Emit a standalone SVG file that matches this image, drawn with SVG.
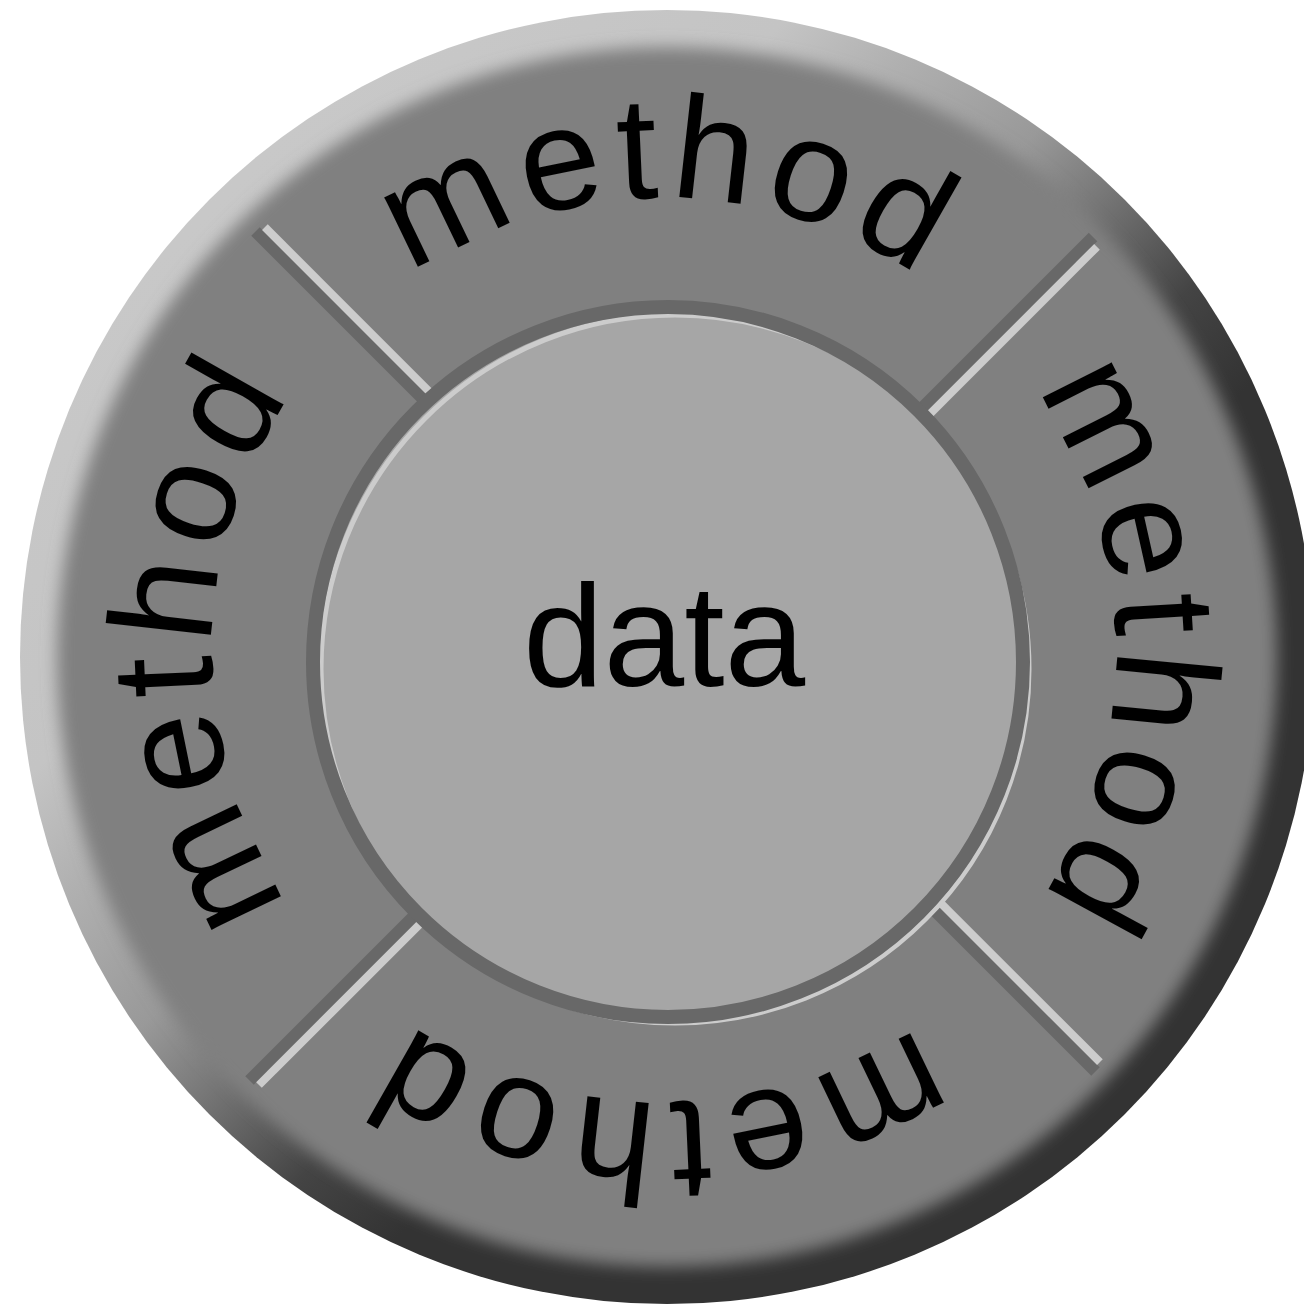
<svg xmlns="http://www.w3.org/2000/svg" width="1304" height="1304" viewBox="0 0 1304 1304">
  <style>
    .label { font-family: "Liberation Sans", Arial, Helvetica, sans-serif; fill: #000000; }
    .arc { font-size: 146px; letter-spacing: 10px; }
    .core { font-size: 145px; }
    .groove { stroke: #686868; stroke-width: 12; fill: none; }
    .gleam { stroke: #cccccc; stroke-width: 8; fill: none; }
  </style>
  <defs>
    <!-- bevelled rim: lit from the upper left, shadowed to the lower right -->
    <linearGradient id="rimShade" x1="0" y1="0" x2="1" y2="1">
      <stop offset="0" stop-color="#cccccc"/>
      <stop offset="0.30" stop-color="#c4c4c4"/>
      <stop offset="0.36" stop-color="#b0b0b0"/>
      <stop offset="0.44" stop-color="#999999"/>
      <stop offset="0.49" stop-color="#777777"/>
      <stop offset="0.56" stop-color="#444444"/>
      <stop offset="0.62" stop-color="#333333"/>
      <stop offset="1" stop-color="#333333"/>
    </linearGradient>
    <filter id="soften" x="-10%" y="-10%" width="120%" height="120%">
      <feGaussianBlur stdDeviation="8"/>
    </filter>
    <!-- baseline circle for the ring labels -->
    <path id="arcPath" d="M 212 650 A 452 452 0 0 1 1116 650"/>
  </defs>

  <rect width="1304" height="1304" fill="#ffffff"/>

  <!-- outer disc -->
  <g id="ring">
    <circle cx="667" cy="657" r="647" fill="url(#rimShade)"/>
    <circle cx="667" cy="657" r="610" fill="#808080" filter="url(#soften)"/>
  </g>

  <!-- separators between the method segments -->
  <g id="connectors">
    <line class="groove" x1="255.5" y1="231.5" x2="677" y2="653"/>
    <line class="gleam" x1="264.9" y1="227.2" x2="684.4" y2="646.7"/>
    <line class="groove" x1="1095.5" y1="1071.5" x2="677" y2="653"/>
    <line class="gleam" x1="1099.9" y1="1062.2" x2="684.4" y2="646.7"/>
    <line class="groove" x1="1093" y1="237" x2="665" y2="665"/>
    <line class="gleam" x1="1097" y1="246.8" x2="672" y2="672"/>
    <line class="groove" x1="249.5" y1="1080.5" x2="665" y2="665"/>
    <line class="gleam" x1="259" y1="1085" x2="672" y2="672"/>
  </g>

  <!-- central data disc -->
  <g id="data">
    <circle cx="668" cy="662" r="349" fill="#a6a6a6"/>
    <circle cx="675" cy="669" r="354" fill="none" stroke="#cccccc" stroke-width="5"/>
    <circle cx="668" cy="662" r="355" fill="none" stroke="#686868" stroke-width="14"/>
    <text class="label core" x="664" y="686" text-anchor="middle">data</text>
  </g>

  <g id="method-top">
    <text class="label arc"><textPath href="#arcPath" startOffset="715" text-anchor="middle">method</textPath></text>
  </g>
  <g id="method-right" transform="rotate(89 664 650)">
    <text class="label arc"><textPath href="#arcPath" startOffset="715" text-anchor="middle">method</textPath></text>
  </g>
  <g id="method-bottom" transform="rotate(180 664 650)">
    <text class="label arc"><textPath href="#arcPath" startOffset="715" text-anchor="middle">method</textPath></text>
  </g>
  <g id="method-left" transform="rotate(270 664 650)">
    <text class="label arc"><textPath href="#arcPath" startOffset="715" text-anchor="middle">method</textPath></text>
  </g>
</svg>
